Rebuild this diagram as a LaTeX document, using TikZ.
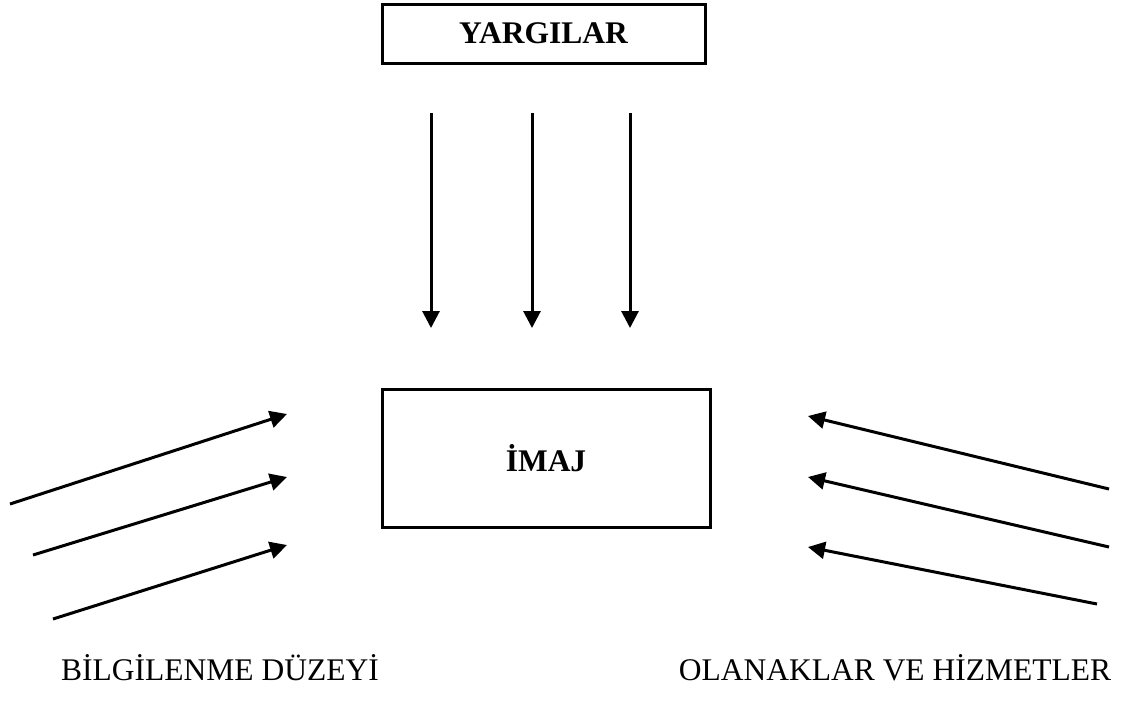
\documentclass[tikz,border=0pt]{standalone}
\usepackage{fontspec}
\setmainfont{Liberation Serif}
\usetikzlibrary{arrows.meta}
\begin{document}
\begin{tikzpicture}[x=1pt,y=-1pt,
  box/.style={draw=black,line width=3pt,inner sep=0pt,font=\fontsize{31.5}{36}\selectfont\bfseries},
  lbl/.style={inner sep=0pt,anchor=base,font=\fontsize{31.5}{36}\selectfont},
  arr/.style={line width=3pt,-{Triangle[length=17pt,width=17pt]}}]
\useasboundingbox (0,0) rectangle (1123,705);
\fill[white] (0,0) rectangle (1123,705);
\node[box,minimum width=323pt,minimum height=59pt] (yargi) at (543.5,33.5) {YARGILAR};
\node[box,minimum width=328pt,minimum height=138pt] (imaj) at (546,458) {İMAJ};
\node[lbl] (bilgi) at (220,680) {BİLGİLENME DÜZEYİ};
\node[lbl] (olanak) at (895,680) {OLANAKLAR VE HİZMETLER};
% vertical arrows
\coordinate (v1s) at (431,113); \coordinate (v1e) at (431,328);
\coordinate (v2s) at (532,113); \coordinate (v2e) at (532,328);
\coordinate (v3s) at (630,113); \coordinate (v3e) at (630,328);
\draw[arr] (v1s) -- (v1e);
\draw[arr] (v2s) -- (v2e);
\draw[arr] (v3s) -- (v3e);
% left arrows
\coordinate (l1s) at (10,504); \coordinate (l1e) at (287,414);
\coordinate (l2s) at (33,555); \coordinate (l2e) at (287,477);
\coordinate (l3s) at (53,619); \coordinate (l3e) at (287,545);
\draw[arr] (l1s) -- (l1e);
\draw[arr] (l2s) -- (l2e);
\draw[arr] (l3s) -- (l3e);
% right arrows
\coordinate (r1s) at (1109,489); \coordinate (r1e) at (808,416);
\coordinate (r2s) at (1109,547); \coordinate (r2e) at (808,477);
\coordinate (r3s) at (1097,604); \coordinate (r3e) at (808,547);
\draw[arr] (r1s) -- (r1e);
\draw[arr] (r2s) -- (r2e);
\draw[arr] (r3s) -- (r3e);
\end{tikzpicture}
\end{document}
